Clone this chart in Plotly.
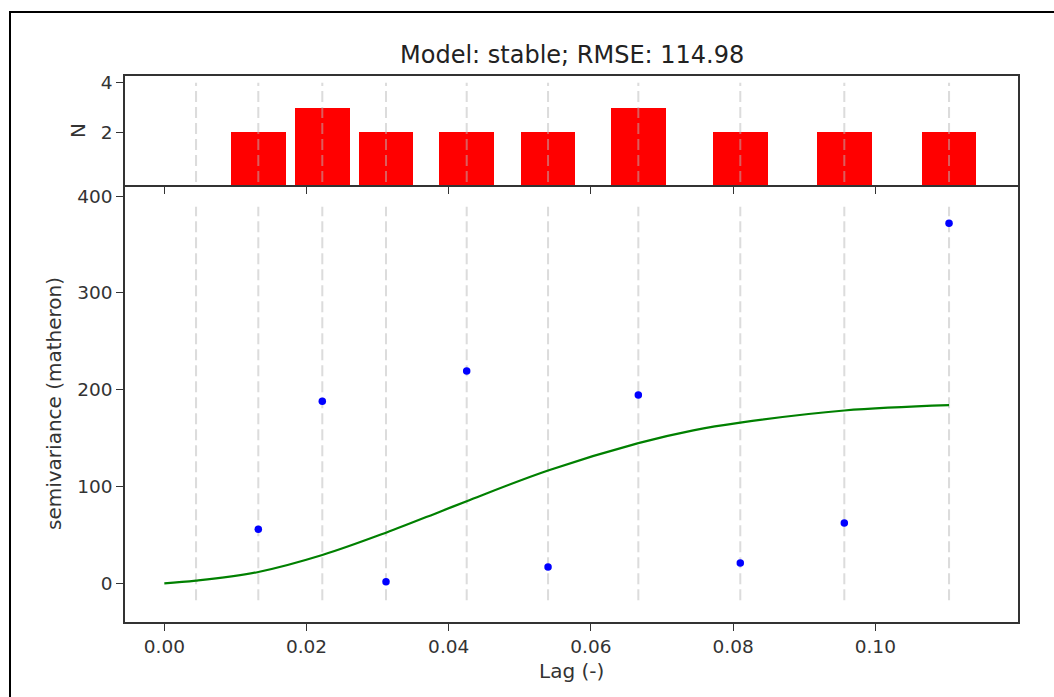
import plotly.graph_objects as go

# ---- data ----
lags = [0.01322, 0.02222, 0.03118, 0.04253, 0.05397, 0.06667, 0.08101, 0.09564, 0.11037]
semivariance = [55.8, 188.0, 1.7, 219.3, 16.8, 194.5, 21.0, 62.3, 372.0]
counts = [2, 3, 2, 2, 2, 3, 2, 2, 2]
bin_edges = [0.00446, 0.01322, 0.02222, 0.03118, 0.04253, 0.05397, 0.06667, 0.08101, 0.09564, 0.11037]
model_lag = [0.0, 0.00446, 0.01322, 0.02222, 0.03118, 0.03878, 0.04253, 0.05397, 0.06667, 0.0744, 0.08101, 0.09564, 0.11037]
model_val = [0.0, 2.7, 11.7, 29.2, 52.3, 74.0, 84.8, 116.5, 144.8, 158.0, 166.0, 178.5, 184.0]
x_ticks = [0.0, 0.02, 0.04, 0.06, 0.08, 0.10]
y_ticks = [0, 100, 200, 300, 400]
n_ticks = [2, 4]
title_text = "Model: stable; RMSE: 114.98"
bar_width = 0.0077
vline_main = (-17.5, 389.0)
vline_hist = (0.0, 4.0)

W, H = 1054, 697
def px(x):
    return x / W
def py(y):
    return 1 - y / H

hist_range = [-0.125, 4.27]
bar_base = hist_range[0]

fig = go.Figure()

# bars drawn from the bottom of the axis up to each count
fig.add_trace(go.Bar(x=lags, y=[c - bar_base for c in counts], base=bar_base,
                     width=[bar_width] * len(lags),
                     customdata=counts, hovertemplate="%{x}: %{customdata}<extra></extra>",
                     marker=dict(color="#ff0000", line=dict(width=0)),
                     xaxis="x2", yaxis="y2", showlegend=False))

def vl(ymin, ymax):
    xs, ys = [], []
    for e in bin_edges:
        xs += [e, e, None]
        ys += [ymin, ymax, None]
    return xs, ys

vx, vy = vl(*vline_hist)
fig.add_trace(go.Scatter(x=vx, y=vy, mode="lines", xaxis="x2", yaxis="y2",
                         line=dict(color="rgba(185,185,185,0.5)", width=2, dash="11px,5px"),
                         showlegend=False, hoverinfo="skip"))
vx, vy = vl(*vline_main)
fig.add_trace(go.Scatter(x=vx, y=vy, mode="lines", xaxis="x", yaxis="y",
                         line=dict(color="rgba(185,185,185,0.5)", width=2, dash="11px,5px"),
                         showlegend=False, hoverinfo="skip"))

fig.add_trace(go.Scatter(x=model_lag, y=model_val, mode="lines", line_shape="spline",
                         line=dict(color="#008000", width=2.2), showlegend=False))
fig.add_trace(go.Scatter(x=lags, y=semivariance, mode="markers",
                         marker=dict(color="#0000ff", size=7.5), showlegend=False))

axis_common = dict(showline=True, linecolor="#333333", linewidth=1.5,
                   showgrid=False, zeroline=False, ticks="outside", ticklen=7,
                   tickwidth=1.3, tickcolor="#333333", automargin=False,
                   tickfont=dict(family="DejaVu Sans", size=18.5, color="#333333"))

xr = [-0.00553, 0.12007]
fig.update_layout(
    template="none",
    width=W, height=H,
    margin=dict(l=0, r=0, t=0, b=0, pad=0),
    paper_bgcolor="white", plot_bgcolor="white",
    xaxis=dict(domain=[px(125), px(1018)], anchor="y", range=xr, mirror=False,
               tickvals=x_ticks, tickformat=".2f", **axis_common),
    yaxis=dict(domain=[py(622), py(185)], anchor="x", range=[-40.0, 411.5], mirror=True,
               tickvals=y_ticks, **axis_common),
    xaxis2=dict(domain=[px(125), px(1018)], anchor="y2", range=xr, mirror=True,
                tickvals=x_ticks, showticklabels=False, matches="x", **axis_common),
    yaxis2=dict(domain=[py(185), py(76)], anchor="x2", range=hist_range, mirror=True,
                tickvals=n_ticks, **axis_common),
    bargap=0,
)

font_lbl = dict(family="DejaVu Sans", size=20, color="#333333")
fig.add_annotation(text=title_text, x=px(571.5), y=py(55), xref="paper", yref="paper",
                   showarrow=False, xanchor="center", yanchor="middle",
                   font=dict(family="DejaVu Sans", size=24, color="#222222"))
fig.add_annotation(text="Lag (-)", x=px(571.5), y=py(671), xref="paper", yref="paper",
                   showarrow=False, xanchor="center", yanchor="middle", font=font_lbl)
fig.add_annotation(text="semivariance (matheron)", x=px(54), y=py(404), xref="paper", yref="paper",
                   showarrow=False, xanchor="center", yanchor="middle", textangle=-90, font=font_lbl)
fig.add_annotation(text="N", x=px(78), y=py(131), xref="paper", yref="paper",
                   showarrow=False, xanchor="center", yanchor="middle", textangle=-90, font=font_lbl)

fig.add_shape(type="rect", xref="paper", yref="paper", x0=px(10), x1=px(1070),
              y0=py(710), y1=py(12), line=dict(color="black", width=2), fillcolor="rgba(0,0,0,0)")

fig.write_html("out.html")
